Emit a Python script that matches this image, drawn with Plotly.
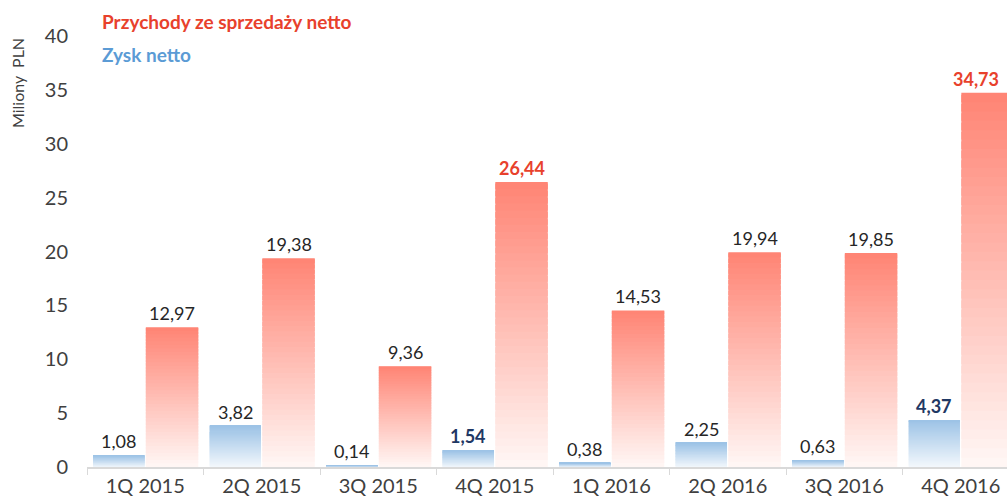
import plotly.graph_objects as go

categories = ["1Q 2015", "2Q 2015", "3Q 2015", "4Q 2015", "1Q 2016", "2Q 2016", "3Q 2016", "4Q 2016"]
revenue = [12.97, 19.38, 9.36, 26.44, 14.53, 19.94, 19.85, 34.73]
profit = [1.08, 3.82, 0.14, 1.54, 0.38, 2.25, 0.63, 4.37]
revenue_labels = ["12,97", "19,38", "9,36", "26,44", "14,53", "19,94", "19,85", "34,73"]
profit_labels = ["1,08", "3,82", "0,14", "1,54", "0,38", "2,25", "0,63", "4,37"]
revenue_bold = [False, False, False, True, False, False, False, True]
profit_bold = [False, False, False, True, False, False, False, True]
y_ticks = [0, 5, 10, 15, 20, 25, 30, 35, 40]

FONT = "Lato"
N = 40

def lerp(c1, c2, t):
    return "rgb(%d,%d,%d)" % tuple(round(a + (b - a) * t) for a, b in zip(c1, c2))

fig = go.Figure()

def add_gradient(values, top, bottom, offset, width):
    for k in range(N):
        t = k / (N - 1)  # 0 bottom -> 1 top
        bases = [v * k / N for v in values]
        heights = [min(v * 1.8 / N, v - b) for v, b in zip(values, bases)]
        fig.add_trace(go.Bar(
            x=categories,
            y=heights,
            base=bases,
            offset=offset, width=width,
            marker=dict(color=lerp(bottom, top, t), line=dict(width=0)),
            showlegend=False, hoverinfo="skip",
        ))

add_gradient(profit, (157, 195, 230), (242, 247, 252), -0.447, 0.44)
add_gradient(revenue, (255, 133, 117), (255, 246, 244), 0.005, 0.45)

ann = []
for i, (v, lab, b) in enumerate(zip(profit, profit_labels, profit_bold)):
    ann.append(dict(x=i - 0.227, y=v, xref="x", yref="y", text=("<b>%s</b>" % lab) if b else lab,
                    showarrow=False, yanchor="bottom", yshift=1,
                    font=dict(family=FONT, size=18, color="#1F3864" if b else "#262626")))
for i, (v, lab, b) in enumerate(zip(revenue, revenue_labels, revenue_bold)):
    last = i == len(revenue) - 1
    ann.append(dict(x=i + 0.23, y=v, xref="x", yref="y", text=("<b>%s</b>" % lab) if b else lab,
                    showarrow=False, yanchor="bottom", yshift=1, xshift=-12 if last else 0,
                    font=dict(family=FONT, size=18, color="#E8412C" if b else "#262626")))

ann.append(dict(x=100, y=22, xref="paper", yref="paper", text="<b>Przychody ze sprzedaży netto</b>",
                showarrow=False, xanchor="left", yanchor="middle",
                font=dict(family=FONT, size=19, color="#E8412C")))
ann.append(dict(x=100, y=55, xref="paper", yref="paper", text="<b>Zysk netto</b>",
                showarrow=False, xanchor="left", yanchor="middle",
                font=dict(family=FONT, size=19, color="#5B9BD5")))
ann.append(dict(x=17, y=83, xref="paper", yref="paper", text="Miliony  PLN", textangle=-90,
                showarrow=False, xanchor="center", yanchor="middle",
                font=dict(family=FONT, size=16, color="#404040")))

W, H = 1007, 502
ml, mr, mt, mb = 87, 0, 36, 35
pw, ph = W - ml - mr, H - mt - mb
for a in ann[-3:]:
    a["x"] = (a["x"] - ml) / pw
    a["y"] = 1 - (a["y"] - mt) / ph

fig.update_layout(
    width=W, height=H,
    margin=dict(l=ml, r=mr, t=mt, b=mb, autoexpand=False),
    barmode="overlay",
    plot_bgcolor="white", paper_bgcolor="white",
    annotations=ann,
    font=dict(family=FONT, color="#404040"),
    xaxis=dict(
        type="category", range=[-0.5, 7.397], automargin=False,
        showline=True, linecolor="#D9D9D9", linewidth=1.5,
        ticks="outside", tickson="boundaries", ticklen=6, tickcolor="#D9D9D9",
        tickfont=dict(family=FONT, size=20, color="#404040"),
        showgrid=False, fixedrange=True,
    ),
    yaxis=dict(
        range=[0, 40], tickvals=y_ticks, showgrid=False, zeroline=False, automargin=False,
        showline=False, ticks="", ticklabelstandoff=18,
        tickfont=dict(family=FONT, size=20, color="#404040"),
    ),
)

fig.write_html("out.html", config={"displayModeBar": False},
               post_script="document.body.style.margin='0px';document.body.style.overflow='hidden';")
